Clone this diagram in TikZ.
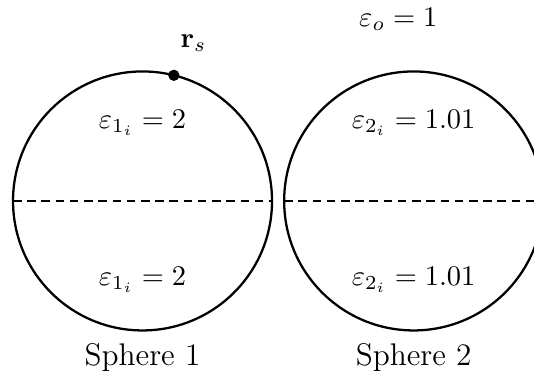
\documentclass[tikz,border=0pt]{standalone}
\usepackage{amsmath}
\usepackage{tikz}
\usetikzlibrary{positioning, calc}

\begin{document}
\begin{tikzpicture}[
    sphere/.style={circle, draw, thick, inner sep=0pt, outer sep=0pt, minimum size=3.2cm},
    dot/.style={circle, fill=black, inner sep=0pt, minimum size=0.14cm},
    eps/.style={font=\normalsize},
    spherename/.style={font=\fontsize{11}{13}\selectfont},
    split/.style={dash pattern=on 3pt off 2pt}
]
\clip (-1.761,-2.100) rectangle (4.837,2.483);
\node[sphere] (s1) at (0, 0) {};
\node[sphere] (s2) at (3.35, 0) {};
\draw[split] (s1.west) -- (s1.east);
\draw[split] (s2.west) -- (s2.east);
\node[eps] (e1top) at (0, 0.97) {$\varepsilon_{1_i} = 2$};
\node[eps] (e1bot) at (0, -0.97) {$\varepsilon_{1_i} = 2$};
\node[eps] (e2top) at (3.35, 0.97) {$\varepsilon_{2_i} = 1.01$};
\node[eps] (e2bot) at (3.35, -0.97) {$\varepsilon_{2_i} = 1.01$};
\node[eps] (eout) at (3.16, 2.24) {$\varepsilon_o = 1$};
\node[dot] (rs) at (s1.76) {};
\node (rslabel) at (0.63, 1.95) {$\mathbf{r}_s$};
\node[spherename] (name1) at (0, -1.93) {Sphere 1};
\node[spherename] (name2) at (3.35, -1.93) {Sphere 2};
\end{tikzpicture}
\end{document}
